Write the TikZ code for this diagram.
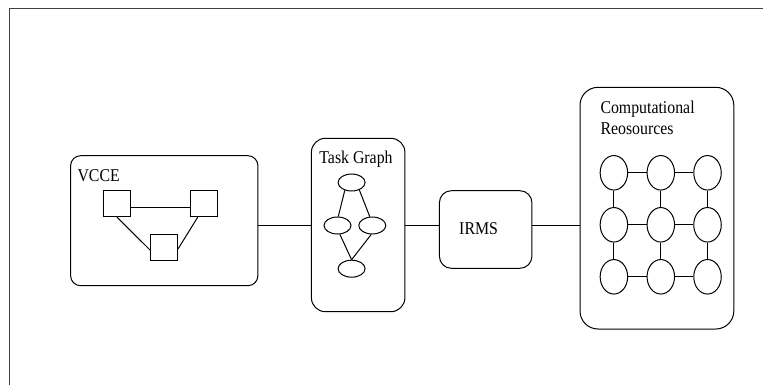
\documentclass[tikz,border=0pt]{standalone}
\usepackage{fontspec}
\setmainfont[FakeStretch=0.88]{Liberation Serif}
\usetikzlibrary{shapes.geometric,calc}
\begin{document}
\begin{tikzpicture}[x=1pt,y=-1pt,line width=1pt,
  box/.style={draw,rounded corners=#1,inner sep=0pt},
  sq/.style={draw,rectangle,minimum width=27pt,minimum height=26pt,inner sep=0pt},
  tnode/.style={draw,ellipse,minimum width=27pt,minimum height=17pt,inner sep=0pt},
  cnode/.style={draw,ellipse,minimum width=27.5pt,minimum height=34.5pt,inner sep=0pt},
  lbl/.style={font=\fontsize{18}{20.6}\selectfont,inner sep=0pt}]
\useasboundingbox (0,0) rectangle (763,385);
\fill[white] (0,0) rectangle (763,385);
% frame
\draw[draw=black!75] (9.7,390) -- (9.7,8.3) -- (770,8.3);
% main boxes
\node[box=10pt,minimum width=187.3pt,minimum height=130pt] (vcce) at (164.25,220.7) {};
\node[box=14pt,minimum width=93.5pt,minimum height=173.4pt] (tg) at (358.15,225) {};
\node[box=12pt,minimum width=92.5pt,minimum height=77.6pt] (irms) at (485.65,229.5) {};
\node[box=18pt,minimum width=153.8pt,minimum height=241.7pt] (cr) at (656.9,208.15) {};
% labels
\node[lbl,anchor=base west] (lv) at (77,181.7) {VCCE};
\node[lbl,anchor=base] (lt) at (356,163.3) {Task Graph};
\node[lbl,anchor=base] (li) at (478.6,234.3) {IRMS};
\node[lbl,anchor=base west,align=left] (lc) at (600,134.3) {Computational\\Reosources};
% connectors
\draw (tg.west) -- (tg.west -| vcce.east);
\draw (tg.east) -- (tg.east -| irms.west);
\draw (tg.east -| irms.east) -- (tg.east -| cr.west);
% VCCE inner graph
\node[sq] (s1) at (117,203.7) {};
\node[sq] (s2) at (203.7,203.7) {};
\node[sq] (s3) at (164,247) {};
\draw ([yshift=-4pt]s1.east) -- ([yshift=-4pt]s2.west);
\draw (s1.south) -- ([yshift=-3pt]s3.west);
\draw ([xshift=-6pt]s2.south) -- ([yshift=-2pt]s3.east);
% task graph
\node[tnode] (t) at (351.6,182.5) {};
\node[tnode] (l) at (337.5,225.5) {};
\node[tnode] (r) at (372.3,225.5) {};
\node[tnode] (b) at (351.6,268.7) {};
\draw (t.-131) -- (l.85);
\draw (t.-44) -- (r.106);
\draw (l.-75) -- (b.north);
\draw (r.-97) -- (b.north);
% resource grid
\foreach \c/\x in {1/613.9,2/660.8,3/707.5}
  \foreach \r/\y in {1/172.8,2/224.8,3/276.8}
    \node[cnode] (c\r\c) at (\x,\y) {};
\foreach \r in {1,2,3}{
  \draw (c\r1.east) -- (c\r2.west);
  \draw (c\r2.east) -- (c\r3.west);}
\foreach \c in {1,2,3}{
  \draw (c1\c.south) -- (c2\c.north);
  \draw (c2\c.south) -- (c3\c.north);}
\end{tikzpicture}
\end{document}
